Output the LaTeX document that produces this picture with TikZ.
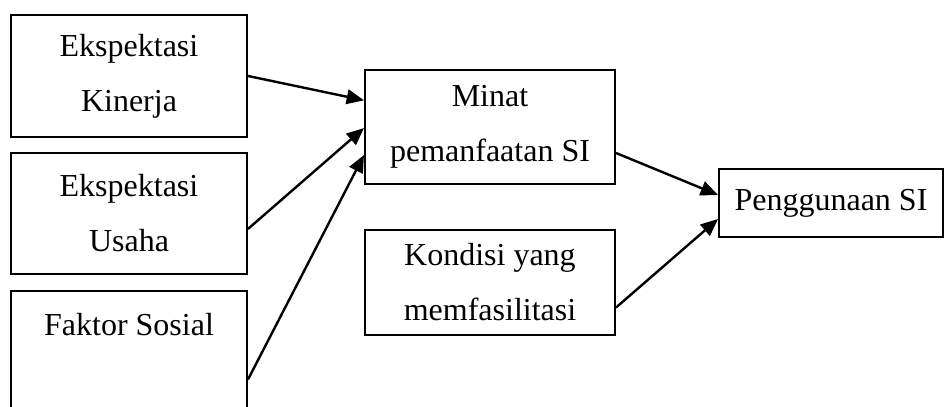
\documentclass[tikz,border=0pt]{standalone}
\usepackage{fontspec}
\setmainfont{Liberation Serif}
\usetikzlibrary{arrows.meta}

\tikzset{
    var/.style={draw, line width=0.75pt, align=center, inner sep=0pt,
        font=\fontsize{12}{20.6}\selectfont},
    link/.style={line width=0.9pt, -{Triangle[length=6.5pt,width=5.5pt]}}
}

\begin{document}
\begin{tikzpicture}[x=0.375pt, y=-0.375pt]
    \useasboundingbox (0,0) rectangle (944,407);
    \clip (0,0) rectangle (944,407);

    \node[var, minimum width=88.5pt, minimum height=45.75pt] (kinerja) at (129,76) {Ekspektasi\\Kinerja};
    \node[var, minimum width=88.5pt, minimum height=45.4pt] (usaha) at (129,213.5) {Ekspektasi\\Usaha};
    \node[var, minimum width=88.5pt, minimum height=66.4pt] (sosial) at (129,379.5) {Faktor Sosial\\\mbox{}\\\mbox{}};

    \node[var, minimum width=93.75pt, minimum height=42.75pt] (minat) at (490,127) {Minat\\pemanfaatan SI};
    \node[var, minimum width=93.75pt, minimum height=39.4pt] (kondisi) at (490,282.5) {Kondisi yang\\memfasilitasi};

    \node[var, minimum width=84pt, minimum height=25.5pt] (guna) at (831,203) {Penggunaan SI};

    \foreach \src/\ys/\ye in {kinerja/0pt/10pt, usaha/-5.8pt/-0.4pt, sosial/0pt/-10.5pt}
        \draw[link] ([yshift=\ys]\src.east) -- ([yshift=\ye]minat.west);

    \draw[link] ([yshift=-9.75pt]minat.east) -- ([yshift=3pt]guna.west);
    \draw[link] ([yshift=-9.4pt]kondisi.east) -- ([yshift=-6pt]guna.west);

\end{tikzpicture}
\end{document}
